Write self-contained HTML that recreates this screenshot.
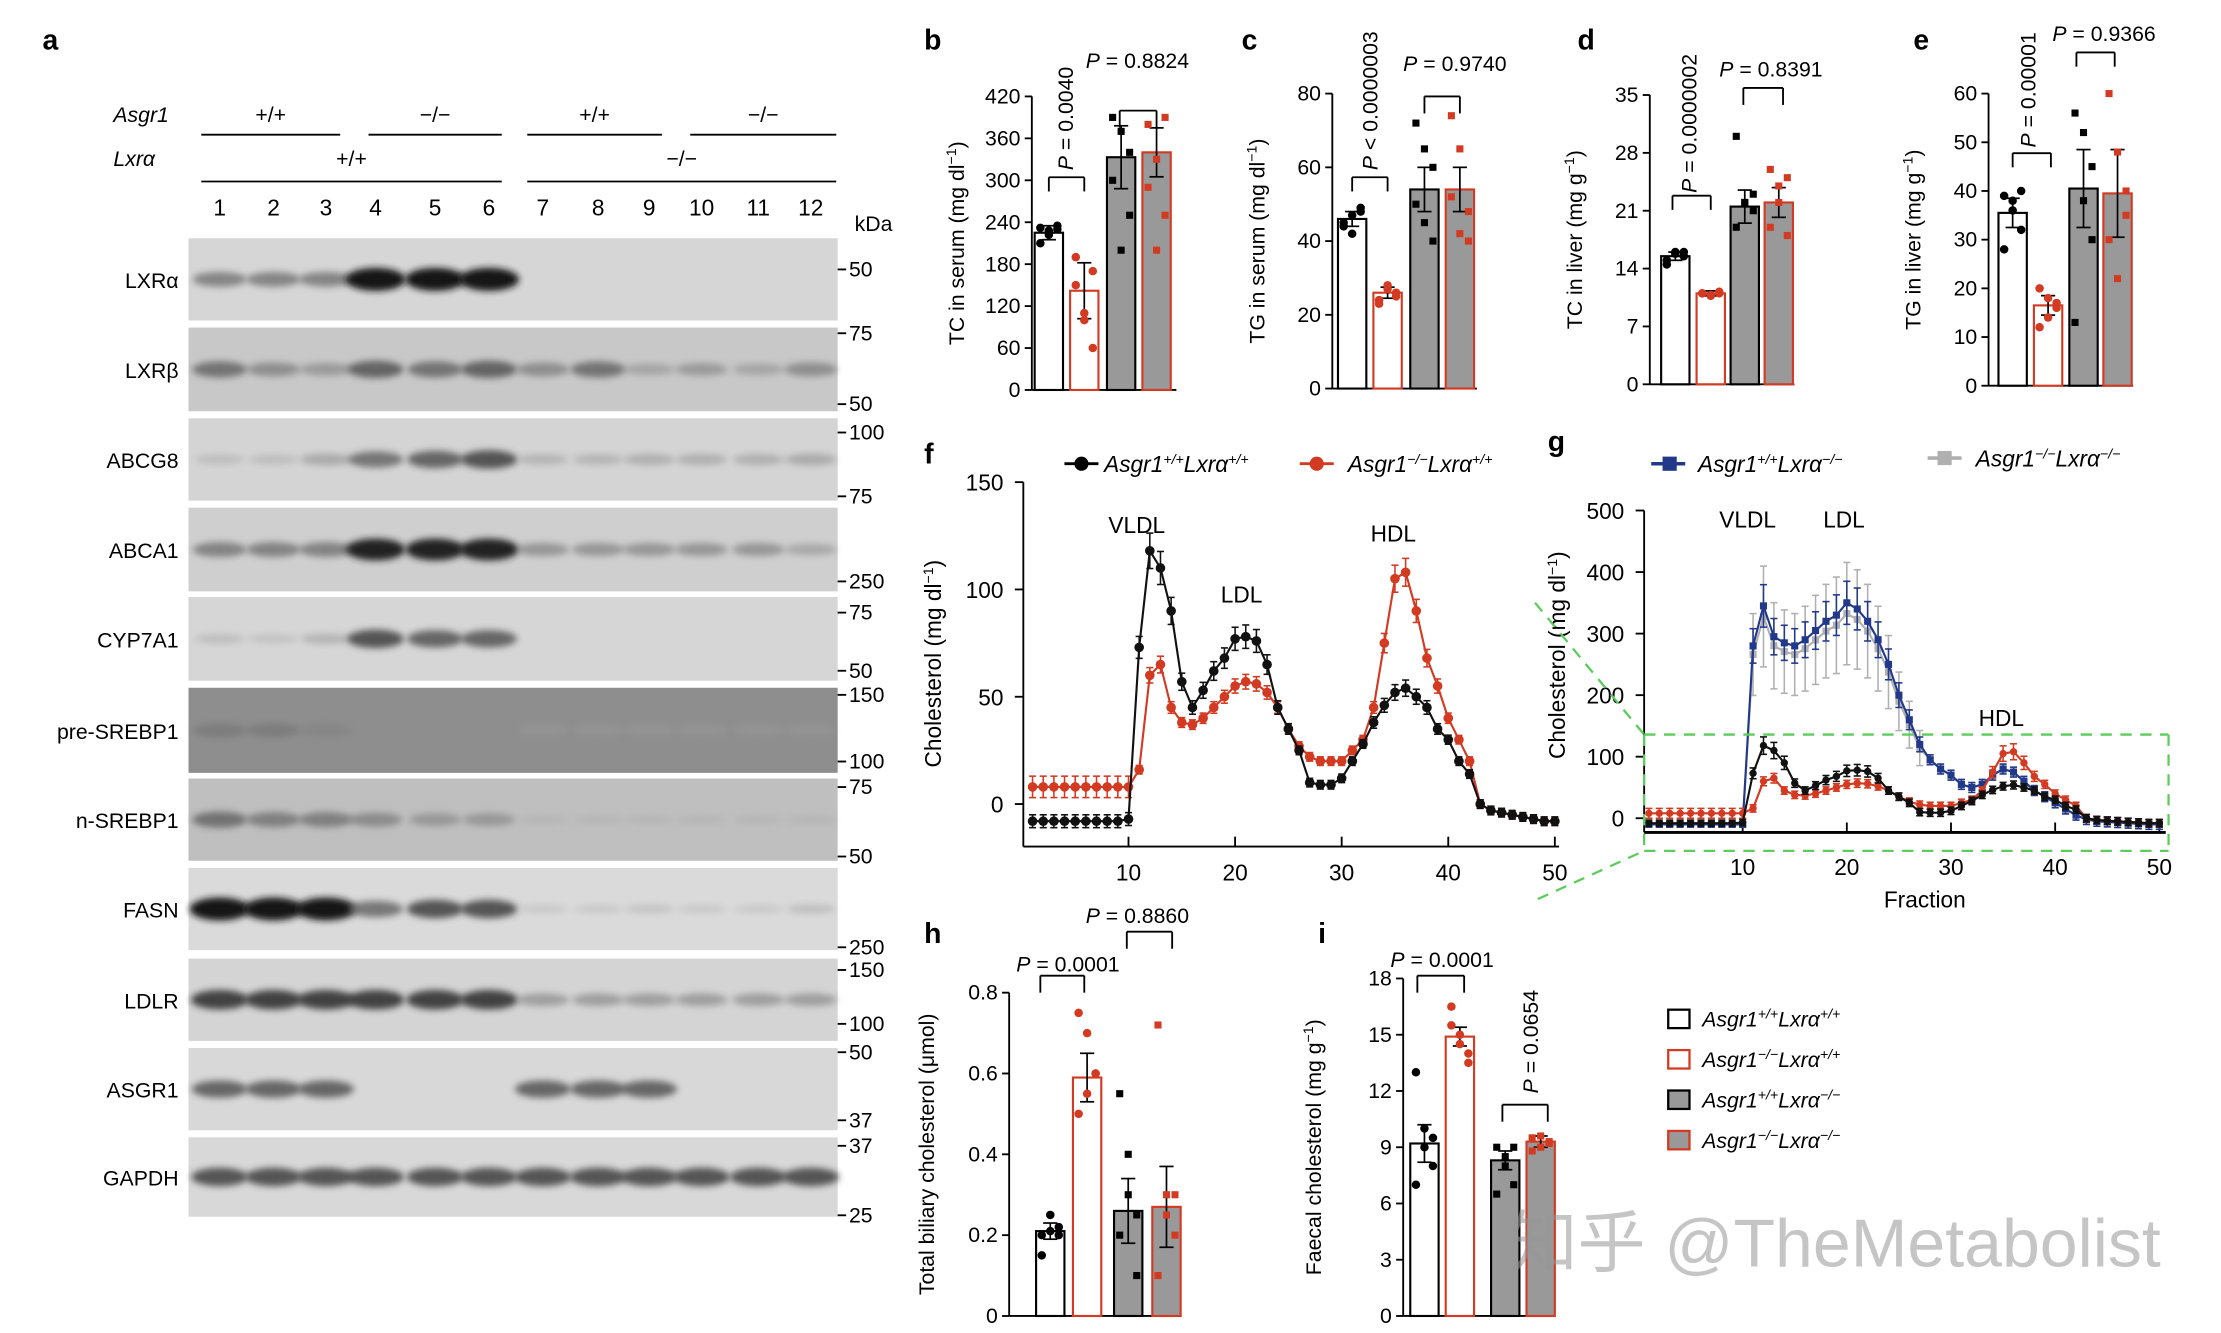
<!DOCTYPE html>
<html><head><meta charset="utf-8">
<style>
html,body{margin:0;padding:0;background:#fff;}
svg{display:block;}
text{font-family:"Liberation Sans","Noto Sans CJK SC",sans-serif;}
</style></head>
<body>
<svg id="s" width="2221" height="1333" viewBox="0 0 1567 940" preserveAspectRatio="none" xmlns="http://www.w3.org/2000/svg">
<defs>
<filter id="bl" x="-50%" y="-50%" width="200%" height="200%"><feGaussianBlur stdDeviation="2.5"/></filter>
</defs>
<g id="g"></g>
</svg>
<script>
const G=document.getElementById('g');
let h='';
function T(x,y,t,o){o=o||{};h+=`<text x="${x}" y="${y}" font-size="${o.s||15}" fill="${o.c||'#000'}" text-anchor="${o.a||'start'}" ${o.w?'font-weight="bold"':''} ${o.i?'font-style="italic"':''} ${o.r!==undefined?`transform="rotate(${o.r} ${x} ${y})"`:''}>${t}</text>`;}
function L(x1,y1,x2,y2,c,w,d){h+=`<line x1="${x1}" y1="${y1}" x2="${x2}" y2="${y2}" stroke="${c||'#000'}" stroke-width="${w||1.3}" ${d?`stroke-dasharray="${d}"`:''}/>`;}
function R(x,y,w,hh,f,s,sw){h+=`<rect x="${x}" y="${y}" width="${w}" height="${hh}" fill="${f}" stroke="${s||'none'}" stroke-width="${sw||1.5}"/>`;}
function C(x,y,r,f){h+=`<circle cx="${x}" cy="${y}" r="${r}" fill="${f}"/>`;}
[['a',30,35],['b',652,35],['c',876,35],['d',1113,35],['e',1350,35],['f',652,327],['g',1092,318],['h',652,665],['i',930,665]].forEach(p=>T(p[1],p[2],p[0],{s:20,w:1}));
T(80,86,'Asgr1',{i:1});T(80,117,'Lxrα',{i:1});
[[142,240,'+/+'],[260,354,'−/−'],[372,467,'+/+'],[487,590,'−/−']].forEach(a=>{L(a[0],95,a[1],95);T((a[0]+a[1])/2,86,a[2],{a:'middle'});});
L(142,128,354,128);L(372,128,590,128);T(248,117,'+/+',{a:'middle'});T(481,117,'−/−',{a:'middle'});
const lx=[155,193,230,265,307,345,383,422,458,495,535,572];
lx.forEach((x,i)=>T(x,152,i+1,{a:'middle',s:16}));
T(603,163,'kDa');
const rows=[['LXRα',168,226,[['50',190]],[.7,.7,.7,1.4,1.4,1.4,0,0,0,0,0,0],'#d6d6d6'],
['LXRβ',231,290,[['75',235],['50',285]],[.8,.6,.5,.9,.8,.9,.6,.8,.4,.5,.4,.6],'#c8c8c8'],
['ABCG8',295,353,[['100',305],['75',350]],[.2,.2,.4,.8,.9,1,.3,.3,.35,.35,.35,.4],'#d4d4d4'],
['ABCA1',358,417,[['250',410]],[.7,.7,.7,1.3,1.3,1.3,.55,.55,.55,.55,.55,.4],'#cfcfcf'],
['CYP7A1',421,480,[['75',432],['50',473]],[.2,.15,.3,1,.9,.9,0,0,0,0,0,0],'#d6d6d6'],
['pre-SREBP1',485,545,[['150',490],['100',537]],[.6,.6,.5,.4,.4,.4,.3,.3,.3,.3,.3,.3],'#8e8e8e'],
['n-SREBP1',549,607,[['75',555],['50',604]],[.8,.7,.7,.6,.5,.5,.15,.15,.15,.15,.15,.15],'#bfbfbf'],
['FASN',612,670,[['250',668]],[1.4,1.4,1.4,.8,1,1,.1,.1,.15,.1,.1,.2],'#dadada'],
['LDLR',676,734,[['150',684],['100',722]],[1.1,1.1,1.1,1.1,1.1,1.1,.5,.5,.5,.5,.5,.5],'#d4d4d4'],
['ASGR1',739,797,[['50',742],['37',790]],[.9,.9,.9,0,0,0,.9,.9,.9,0,0,0],'#d8d8d8'],
['GAPDH',802,858,[['37',808],['25',857]],[1,1,1,1,1,1,1,1,1,1,1,1],'#d8d8d8']];
rows.forEach(r=>{
 R(133,r[1],458,r[2]-r[1],r[5]);
 const cy=(r[1]+r[2])/2;
 r[4].forEach((v,i)=>{if(v<=0)return;const g=Math.max(0,Math.round(190-120*v));
  h+=`<ellipse cx="${lx[i]}" cy="${cy}" rx="${17+3*Math.min(v,1.5)}" ry="${2.5+4*Math.min(v,2)}" fill="rgb(${g},${g},${g})" filter="url(#bl)" opacity="${Math.min(1,.4+v*.5)}"/>`;});
 T(126,cy+6,r[0],{a:'end',s:15});
 r[3].forEach(k=>{L(591,k[1],597,k[1]);T(599,k[1]+5,k[0],{s:15});});
});
function bar(ax,y0,y1,max,ticks,label,bars,pts,lbl){
 L(ax,y0,ax,y1);L(ax,y1,ax+102,y1);
 ticks.forEach(t=>{const y=y1-(y1-y0)*t/max;L(ax-5,y,ax,y);T(ax-8,y+5,t,{a:'end',s:15});});
 T(ax-48+(lbl||0),(y0+y1)/2,label,{a:'middle',s:15,r:-90});
 const cols=[['#fff','#000'],['#fff','#d23a22'],['#999','#000'],['#999','#d23a22']];
 bars.forEach((b,i)=>{const y=y1-(y1-y0)*b[1]/max;R(b[0],y,20,y1-y,cols[i][0],cols[i][1],1.5);
  const e=(y1-y0)*b[2]/max;L(b[0]+10,y-e,b[0]+10,y+e,'#000',1.2);L(b[0]+5,y-e,b[0]+15,y-e,'#000',1.2);L(b[0]+5,y+e,b[0]+15,y+e,'#000',1.2);
  (pts[i]||[]).forEach((v,j)=>{const py=y1-(y1-y0)*v/max;const px=b[0]+4+(j%3)*6;const c=(i%2)?'#d23a22':'#000';if(i<2)C(px,py,3,c);else R(px-2.5,py-2.5,5,5,c);});
 });
}
bar(728,68,275,420,[0,60,120,180,240,300,360,420],'TC in serum (mg dl<tspan baseline-shift="super" font-size="10">−1</tspan>)',
 [[730,225,10],[755,142,40],[781,333,45],[806,340,35]],
 [[210,228,235,232,222,230],[190,100,60,150,110,170],[390,370,250,300,200,340],[380,330,250,290,200,390]]);
bar(940,66,274,80,[0,20,40,60,80],'TG in serum (mg dl<tspan baseline-shift="super" font-size="10">−1</tspan>)',
 [[944,46,2],[969,26,1.5],[995,54,6],[1020,54,6]],
 [[44,47,48,45,42,49],[24,28,26,23,27,25],[72,65,40,50,45,60],[74,65,40,52,42,48]]);
bar(1164,67,271,35,[0,7,14,21,28,35],'TC in liver (mg g<tspan baseline-shift="super" font-size="10">−1</tspan>)',
 [[1172,15.5,.5],[1197,11,.3],[1221,21.5,2],[1245,22,1.8]],
 [[15,16,15.5,14.5,15.8,16],[11,10.8,11.2,11,10.7,11],[30,22,21,19,22,23],[26,24,18,19,22,25]]);
bar(1403,66,272,60,[0,10,20,30,40,50,60],'TG in liver (mg g<tspan baseline-shift="super" font-size="10">−1</tspan>)',
 [[1410,35.5,3],[1435,16.5,2],[1460,40.5,8],[1484,39.5,9]],
 [[39,38,32,28,36,40],[20,14,17,12,18,16],[56,52,45,13,38,30],[60,48,40,30,22,35]]);
bar(712,700,928,0.8,[0,0.2,0.4,0.6,0.8],'Total biliary cholesterol (μmol)',
 [[731,0.21,0.02],[757,0.59,0.06],[786,0.26,0.08],[813,0.27,0.1]],
 [[0.2,0.25,0.22,0.15,0.21,0.2],[0.75,0.7,0.6,0.5,0.55,0.6],[0.55,0.4,0.1,0.2,0.3,0.25],[0.72,0.3,0.2,0.1,0.25,0.3]],-5);
bar(990,690,928,18,[0,3,6,9,12,15,18],'Faecal cholesterol (mg g<tspan baseline-shift="super" font-size="10">−1</tspan>)',
 [[995,9.2,1],[1020,14.9,.5],[1052,8.3,.5],[1077,9.3,.3]],
 [[13,9,8,7,10,9.5],[16.5,15,14,15.5,14.5,13.5],[9,8.5,7,6.5,8,9],[9.5,9,9.3,8.8,9.6,9.2]],-10);
function br(x1,x2,y,down){L(x1,y,x2,y);L(x1,y,x1,y+down);L(x2,y,x2,y+down);}
br(740,765,125,10);T(757,120,'<tspan font-style="italic">P</tspan> = 0.0040',{r:-90,s:15});
br(790,816,78,12);T(766,48,'<tspan font-style="italic">P</tspan> = 0.8824',{s:15});
br(954,979,125,10);T(972,120,'<tspan font-style="italic">P</tspan> &lt; 0.0000003',{r:-90,s:15});
br(1005,1030,68,12);T(990,50,'<tspan font-style="italic">P</tspan> = 0.9740',{s:15});
br(1180,1207,138,10);T(1197,136,'<tspan font-style="italic">P</tspan> = 0.0000002',{r:-90,s:15});
br(1230,1258,62,12);T(1213,54,'<tspan font-style="italic">P</tspan> = 0.8391',{s:15});
br(1420,1447,108,10);T(1436,104,'<tspan font-style="italic">P</tspan> = 0.00001',{r:-90,s:15});
br(1465,1492,37,10);T(1448,29,'<tspan font-style="italic">P</tspan> = 0.9366',{s:15});
br(734,765,688,12);T(717,685,'<tspan font-style="italic">P</tspan> = 0.0001',{s:15});
br(795,827,657,12);T(766,651,'<tspan font-style="italic">P</tspan> = 0.8860',{s:15});
br(1000,1033,688,12);T(981,682,'<tspan font-style="italic">P</tspan> = 0.0001',{s:15});
br(1060,1092,779,12);T(1085,771,'<tspan font-style="italic">P</tspan> = 0.0654',{r:-90,s:15});
[['#fff','#000','Asgr1<tspan baseline-shift="super" font-size="10">+/+</tspan>Lxrα<tspan baseline-shift="super" font-size="10">+/+</tspan>'],
 ['#fff','#d23a22','Asgr1<tspan baseline-shift="super" font-size="10">−/−</tspan>Lxrα<tspan baseline-shift="super" font-size="10">+/+</tspan>'],
 ['#999','#000','Asgr1<tspan baseline-shift="super" font-size="10">+/+</tspan>Lxrα<tspan baseline-shift="super" font-size="10">−/−</tspan>'],
 ['#999','#d23a22','Asgr1<tspan baseline-shift="super" font-size="10">−/−</tspan>Lxrα<tspan baseline-shift="super" font-size="10">−/−</tspan>']].forEach((l,i)=>{
 const y=718+i*28.5;R(1177,y-6,15,13,l[0],l[1],1.6);T(1201,y+6,l[2],{i:1,s:15});});
const blk=[-8,-8,-8,-8,-8,-8,-8,-8,-8,-7,73,118,110,90,57,45,53,62,68,77,78,76,65,45,35,25,10,9,9,12,20,28,38,46,52,54,50,45,35,30,20,14,0,-3,-4,-5,-6,-7,-8,-8];
const red=[8,8,8,8,8,8,8,8,8,8,16,60,65,45,38,37,40,45,50,55,57,56,52,45,35,27,22,20,20,20,25,30,45,75,105,108,90,68,55,40,30,20,0,-3,-4,-5,-6,-7,-8,-8];
const blu=[-10,-10,-10,-10,-10,-10,-10,-10,-10,-10,280,345,295,285,280,290,305,320,330,350,340,320,290,250,200,160,120,95,80,70,55,50,55,70,80,75,60,45,35,25,15,5,-2,-5,-6,-7,-8,-9,-10,-10];
const gry=blu.map((v,i)=>i>9&&i<27?v*0.95:v);
function series(d,x0,sx,y0,sy,c,sq,err,r){
 let pts=d.map((v,i)=>[x0+(i+1)*sx,y0-v*sy]);
 h+=`<polyline points="${pts.map(p=>p.join(',')).join(' ')}" fill="none" stroke="${c}" stroke-width="1.5"/>`;
 pts.forEach((p,i)=>{const e=(err(i,d[i]))*sy;L(p[0],p[1]-e,p[0],p[1]+e,c,1.1);L(p[0]-2.5,p[1]-e,p[0]+2.5,p[1]-e,c,1.1);L(p[0]-2.5,p[1]+e,p[0]+2.5,p[1]+e,c,1.1);
  if(sq)R(p[0]-2.5,p[1]-2.5,5,5,c);else C(p[0],p[1],r||3.4,c);});
}
const fs=227/150;
L(722,340,722,597);L(722,597,1100,597);
[0,50,100,150].forEach(t=>{const y=567-t*fs;L(716,y,722,y);T(708,y+6,t,{a:'end',s:16});});
[10,20,30,40,50].forEach(t=>{const x=721+t*7.52;L(x,597,x,590);T(x,621,t,{a:'middle',s:16});});
T(664,468,'Cholesterol (mg dl<tspan baseline-shift="super" font-size="10">−1</tspan>)',{a:'middle',r:-90,s:16});
series(red,721,7.52,567,fs,'#d23a22',0,(i,v)=>i<10?5:Math.max(2,v*.06));
series(blk,721,7.52,567,fs,'#111',0,(i,v)=>i<10?3:Math.max(2,v*.07));
T(802,376,'VLDL',{a:'middle',s:16});T(876,425,'LDL',{a:'middle',s:16});T(983,382,'HDL',{a:'middle',s:16});
L(751,327,775,327,'#000',2);C(763,327,5,'#000');T(779,333,'Asgr1<tspan baseline-shift="super" font-size="10">+/+</tspan>Lxrα<tspan baseline-shift="super" font-size="10">+/+</tspan>',{i:1,s:16});
L(917,327,941,327,'#d23a22',2);C(929,327,5,'#d23a22');T(951,333,'Asgr1<tspan baseline-shift="super" font-size="10">−/−</tspan>Lxrα<tspan baseline-shift="super" font-size="10">+/+</tspan>',{i:1,s:16});
L(1160,360,1160,587);L(1160,587,1528,587,'#000',2);
[0,100,200,300,400,500].forEach(t=>{const y=577-t*0.434;L(1154,y,1160,y);T(1146,y+6,t,{a:'end',s:16});});
[10,20,30,40,50].forEach(t=>{const x=1156+t*7.35;L(x,587,x,580);T(x,617,t,{a:'middle',s:16});});
T(1358,640,'Fraction',{a:'middle',s:16});
T(1104,462,'Cholesterol (mg dl<tspan baseline-shift="super" font-size="10">−1</tspan>)',{a:'middle',r:-90,s:16});
series(gry,1156,7.35,577,0.434,'#b0b0b0',1,(i,v)=>i<10?3:(i<27?Math.max(10,v*.25):8));
series(blu,1156,7.35,577,0.434,'#22398a',1,(i,v)=>i<10?3:(i<27?Math.max(8,v*.1):8));
series(red,1156,7.35,577,0.434,'#d23a22',0,(i,v)=>i<10?8:Math.max(6,v*.12),2.6);
series(blk,1156,7.35,577,0.434,'#111',0,(i,v)=>i<10?5:Math.max(6,v*.12),2.6);
T(1233,372,'VLDL',{a:'middle',s:16});T(1301,372,'LDL',{a:'middle',s:16});T(1412,512,'HDL',{a:'middle',s:16});
L(1165,327,1189,327,'#22398a',2.5);R(1173,322,10,10,'#22398a');T(1198,333,'Asgr1<tspan baseline-shift="super" font-size="10">+/+</tspan>Lxrα<tspan baseline-shift="super" font-size="10">−/−</tspan>',{i:1,s:16});
L(1360,323,1384,323,'#b0b0b0',2.5);R(1367,318,10,10,'#b0b0b0');T(1394,329,'Asgr1<tspan baseline-shift="super" font-size="10">−/−</tspan>Lxrα<tspan baseline-shift="super" font-size="10">−/−</tspan>',{i:1,s:16});
const gd='8 6';L(1160,518,1530,518,'#5ccc5c',1.6,gd);L(1160,600,1530,600,'#5ccc5c',1.6,gd);L(1530,518,1530,600,'#5ccc5c',1.6,gd);L(1160,518,1160,600,'#5ccc5c',1.6,gd);
L(1083,425,1160,518,'#5ccc5c',1.6,gd);L(1085,634,1160,600,'#5ccc5c',1.6,gd);
T(1065,893,'知乎 @TheMetabolist',{s:48,c:'rgba(150,150,150,0.55)'});
G.innerHTML=h;
</script>
</body></html>
